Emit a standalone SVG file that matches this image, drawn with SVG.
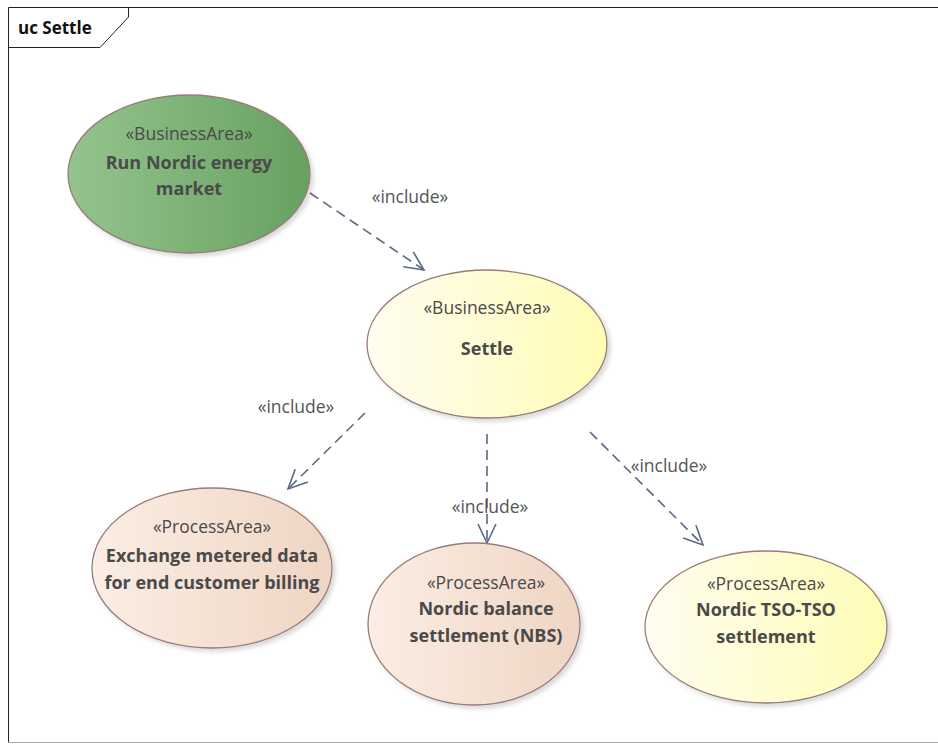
<svg xmlns="http://www.w3.org/2000/svg" width="938" height="744" viewBox="0 0 938 744">
<defs>
<linearGradient id="gGreen" x1="0" y1="0" x2="1" y2="0">
<stop offset="0" stop-color="#94c48e"/><stop offset="1" stop-color="#67a160"/>
</linearGradient>
<linearGradient id="gYellow" x1="0" y1="0" x2="1" y2="0">
<stop offset="0" stop-color="#fffdf0"/><stop offset="1" stop-color="#fffcb6"/>
</linearGradient>
<linearGradient id="gPeach" x1="0" y1="0" x2="1" y2="0">
<stop offset="0" stop-color="#fbeee4"/><stop offset="1" stop-color="#efd5c3"/>
</linearGradient>
<filter id="sh" x="-10%" y="-10%" width="125%" height="125%">
<feDropShadow dx="3" dy="3" stdDeviation="2" flood-color="#000" flood-opacity="0.15"/>
</filter>
<marker id="open" markerWidth="24" markerHeight="24" refX="20" refY="10" orient="auto" markerUnits="userSpaceOnUse">
<path d="M1,1 L20,10 L1,19" fill="none" stroke="#5b6784" stroke-width="1.6"/>
</marker>
</defs>
<style>
.uc{stroke:#9a7b7b;stroke-width:1.3;filter:url(#sh)}
.st{font-family:"Open Sans","DejaVu Sans",sans-serif;font-size:17.5px;fill:#4a4a4a;text-anchor:middle}
.nm{font-family:"Open Sans","DejaVu Sans",sans-serif;font-size:18px;font-weight:bold;fill:#4a4a4a;text-anchor:middle}
.lbl{font-family:"Open Sans","DejaVu Sans",sans-serif;font-size:17.5px;fill:#555;text-anchor:middle}
.dep{fill:none;stroke:#5b6784;stroke-width:1.6;stroke-dasharray:10,6;marker-end:url(#open)}
</style>
<rect width="938" height="744" fill="#fff"/>
<g id="frame">
<path d="M8.5,742.5 V7.5 H940" fill="none" stroke="#222" stroke-width="1"/>
<path d="M8.5,742.5 H940" fill="none" stroke="#aaa" stroke-width="1"/>
<path d="M8.5,47.5 H100 L128.5,17 V7.5" fill="none" stroke="#222" stroke-width="1"/>
<text x="18" y="34" font-family="Open Sans,DejaVu Sans,sans-serif" font-size="17" font-weight="bold" fill="#111">uc Settle</text>
</g>
<g id="connectors">
<line class="dep" x1="310" y1="193" x2="424" y2="270"/>
<line class="dep" x1="365" y1="413" x2="288" y2="489"/>
<line class="dep" x1="487" y1="434" x2="487" y2="543"/>
<line class="dep" x1="590" y1="432" x2="703" y2="545"/>
<text class="lbl" x="410" y="203">«include»</text>
<text class="lbl" x="296" y="413">«include»</text>
<text class="lbl" x="490" y="513">«include»</text>
<text class="lbl" x="669" y="472">«include»</text>
</g>
<g id="run-nordic">
<ellipse class="uc" cx="189" cy="174" rx="121" ry="79" fill="url(#gGreen)"/>
<text class="st" x="189" y="140">«BusinessArea»</text>
<text class="nm" x="189" y="169">Run Nordic energy</text>
<text class="nm" x="189" y="195">market</text>
</g>
<g id="settle">
<ellipse class="uc" cx="487" cy="344" rx="120" ry="74" fill="url(#gYellow)"/>
<text class="st" x="487" y="314">«BusinessArea»</text>
<text class="nm" x="487" y="355">Settle</text>
</g>
<g id="exchange">
<ellipse class="uc" cx="212" cy="568" rx="120" ry="80" fill="url(#gPeach)"/>
<text class="st" x="212" y="533">«ProcessArea»</text>
<text class="nm" x="212" y="562">Exchange metered data</text>
<text class="nm" x="212" y="589">for end customer billing</text>
</g>
<g id="nbs">
<ellipse class="uc" cx="474" cy="624" rx="106" ry="81" fill="url(#gPeach)"/>
<text class="st" x="486" y="589">«ProcessArea»</text>
<text class="nm" x="486" y="615">Nordic balance</text>
<text class="nm" x="486" y="642">settlement (NBS)</text>
</g>
<g id="tso">
<ellipse class="uc" cx="766" cy="627" rx="121" ry="76" fill="url(#gYellow)"/>
<text class="st" x="766" y="590">«ProcessArea»</text>
<text class="nm" x="766" y="616">Nordic TSO-TSO</text>
<text class="nm" x="766" y="643">settlement</text>
</g>
</svg>
